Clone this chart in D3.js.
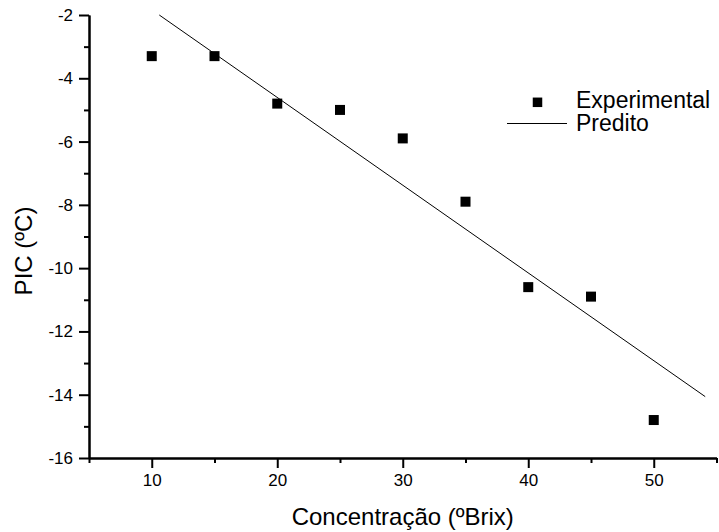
<!DOCTYPE html>
<html>
<head>
<meta charset="utf-8">
<script src="https://cdn.jsdelivr.net/npm/d3@7"></script>
<style>
	body { margin: 0; background: #fff; }
	svg text { font-family: "Liberation Sans", Arial, sans-serif; fill: #000; }
</style>
</head>
<body>
<div id="chartContainer"></div>
<script>
// concentration (ºBrix) and measured PIC (ºC)
var concentracao = [10, 15, 20, 25, 30, 35, 40, 45, 50];
var picExperimental = [-3.3, -3.3, -4.8, -5.0, -5.9, -7.9, -10.6, -10.9, -14.8];

// predicted line end points
var preditoX = [10.6, 54.1];
var preditoY = [-2.0, -14.06];

var xMajorTicks = [10, 20, 30, 40, 50];
var xMinorTicks = [5, 15, 25, 35, 45, 55];
var yMajorTicks = [-16, -14, -12, -10, -8, -6, -4, -2];
var yMinorTicks = [-15, -13, -11, -9, -7, -5, -3];

var xTitle = "Concentração (ºBrix)";
var yTitle = "PIC (ºC)";
var legendNames = ["Experimental", "Predito"];

function drawChart() {
	var width = 719, height = 532;

	var svg = d3.select("#chartContainer")
		.append("svg")
		.attr("width", width)
		.attr("height", height);

	var x = d3.scaleLinear()
		.domain([5, 55])
		.range([89, 716.5]);

	var y = d3.scaleLinear()
		.domain([-16, -2])
		.range([458, 15]);

	// plain hyphen for negatives, like the original
	var fmt = function(d) { return String(d); };

	// x axis, major + minor
	svg.append("g")
		.attr("transform", "translate(0," + y(-16) + ")")
		.call(d3.axisBottom(x).tickValues(xMajorTicks).tickSize(10).tickSizeOuter(0).tickPadding(6).tickFormat(fmt))
		.classed("axis", true);
	svg.append("g")
		.attr("transform", "translate(0," + y(-16) + ")")
		.call(d3.axisBottom(x).tickValues(xMinorTicks).tickSize(5).tickSizeOuter(0).tickFormat(""))
		.classed("axis", true);

	// y axis, major + minor
	svg.append("g")
		.attr("transform", "translate(" + x(5) + ",0)")
		.call(d3.axisLeft(y).tickValues(yMajorTicks).tickSize(10).tickSizeOuter(0).tickPadding(6).tickFormat(fmt))
		.classed("axis", true);
	svg.append("g")
		.attr("transform", "translate(" + x(5) + ",0)")
		.call(d3.axisLeft(y).tickValues(yMinorTicks).tickSize(5).tickSizeOuter(0).tickFormat(""))
		.classed("axis", true);

	svg.selectAll(".axis").selectAll("path")
		.attr("stroke", "black")
		.attr("stroke-width", 2);
	svg.selectAll(".axis").selectAll("line")
		.attr("stroke", "black")
		.attr("stroke-width", 2);
	svg.selectAll(".axis").selectAll("text")
		.style("font-size", "17px")
		.style("fill", "black");

	// axis titles
	svg.append("text")
		.attr("x", (x(5) + x(55)) / 2)
		.attr("y", 525)
		.attr("text-anchor", "middle")
		.style("font-size", "24px")
		.text(xTitle);

	svg.append("text")
		.attr("transform", "translate(32," + 251 + ") rotate(-90)")
		.attr("text-anchor", "middle")
		.style("font-size", "24px")
		.text(yTitle);

	// predicted line
	var lineData = preditoX.map(function(d, i) { return {x: d, y: preditoY[i]}; });
	svg.append("path")
		.datum(lineData)
		.attr("fill", "none")
		.attr("stroke", "black")
		.attr("stroke-width", 1)
		.attr("d", d3.line()
			.x(function(d) { return x(d.x) })
			.y(function(d) { return y(d.y) })
		);

	// experimental points
	var size = 10;
	svg.selectAll(".point")
		.data(concentracao)
		.enter()
		.append("rect")
		.attr("class", "point")
		.attr("x", function(d) { return x(d) - size / 2 })
		.attr("y", function(d, i) { return y(picExperimental[i]) - size / 2 })
		.attr("width", size)
		.attr("height", size)
		.attr("fill", "black");

	// legend
	var legend = svg.append("g");
	legend.append("rect")
		.attr("x", 537.5 - 4.75)
		.attr("y", 102.3 - 4.75)
		.attr("width", 9.5)
		.attr("height", 9.5)
		.attr("fill", "black");
	legend.append("text")
		.attr("x", 576)
		.attr("y", 107.5)
		.style("font-size", "23px")
		.text(legendNames[0]);
	legend.append("line")
		.attr("x1", 507)
		.attr("x2", 567)
		.attr("y1", 123.5)
		.attr("y2", 123.5)
		.attr("stroke", "black")
		.attr("stroke-width", 1);
	legend.append("text")
		.attr("x", 576)
		.attr("y", 131)
		.style("font-size", "23px")
		.text(legendNames[1]);
}

drawChart();
</script>
</body>
</html>
